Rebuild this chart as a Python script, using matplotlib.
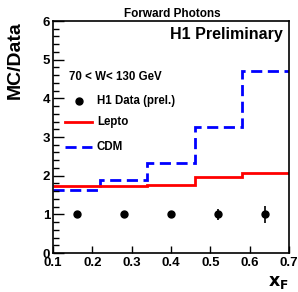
import matplotlib
matplotlib.use("Agg")
import matplotlib.pyplot as plt
import numpy as np
from matplotlib.ticker import MultipleLocator

plt.rcParams['font.family'] = ['Liberation Sans', 'DejaVu Sans']
plt.rcParams['font.weight'] = 'bold'

bin_edges = [0.1, 0.22, 0.34, 0.46, 0.58, 0.7]
data_x = [0.16, 0.28, 0.40, 0.52, 0.64]
data_y = [1.0, 1.0, 1.0, 1.0, 1.0]
data_err = [0.04, 0.05, 0.09, 0.14, 0.22]
lepto = [1.73, 1.74, 1.77, 1.97, 2.06]
cdm = [1.63, 1.89, 2.33, 3.27, 4.70]

W, H = 298, 292
fig = plt.figure(figsize=(W / 100, H / 100), dpi=100)
ax = fig.add_axes([53 / W, 1 - 253 / H, (289 - 53) / W, (253 - 21) / H])

ax.stairs(cdm, bin_edges, color='#0000ff', lw=2.0, ls=(0, (4, 2)), baseline=None)
ax.stairs(lepto, bin_edges, color='#ff0000', lw=2.0, baseline=None)
ax.errorbar(data_x, data_y, yerr=data_err, fmt='o', color='black', ms=5,
            elinewidth=1.2, capsize=0)

ax.set_xlim(0.1, 0.7)
ax.set_ylim(0, 6)
ax.xaxis.set_major_locator(MultipleLocator(0.1))
ax.yaxis.set_major_locator(MultipleLocator(1))
ax.yaxis.set_minor_locator(MultipleLocator(0.2))
ax.tick_params(axis='both', which='both', direction='in', top=False, right=False)
ax.tick_params(axis='y', which='major', length=8, width=1, labelsize=9.5, pad=2)
ax.tick_params(axis='y', which='minor', length=4, width=1)
ax.tick_params(axis='x', which='major', length=5, width=1, labelsize=9.5, pad=3)
for lab in ax.get_xticklabels() + ax.get_yticklabels():
    lab.set_fontweight('bold')
for s in ax.spines.values():
    s.set_linewidth(1.2)

def fx(px):
    return px / W

def fy(py):
    return 1 - py / H

fig.text(fx(172), fy(14), 'Forward Photons', ha='center', va='center', fontsize=8.5, fontweight='bold')
fig.text(fx(283), fy(34), 'H1 Preliminary', ha='right', va='center', fontsize=11.5, fontweight='bold')
fig.text(fx(69), fy(77), '70 < W< 130 GeV', ha='left', va='center', fontsize=8.3, fontweight='bold')
fig.text(fx(15), fy(21), 'MC/Data', ha='center', va='top', rotation=90, fontsize=14, fontweight='bold')
fig.text(fx(289), fy(291), r'$\mathbf{x_F}$', ha='right', va='bottom', fontsize=12.5)

# legend
fig.lines.append(plt.Line2D([fx(79)], [fy(101)], marker='o', ms=5, color='black', transform=fig.transFigure))
fig.lines.append(plt.Line2D([fx(65), fx(92)], [fy(122), fy(122)], color='#ff0000', lw=2, transform=fig.transFigure))
fig.lines.append(plt.Line2D([fx(65), fx(92)], [fy(147), fy(147)], color='#0000ff', lw=2, ls=(0, (4, 2)), transform=fig.transFigure))
fig.text(fx(97), fy(101), 'H1 Data (prel.)', ha='left', va='center', fontsize=8.3, fontweight='bold')
fig.text(fx(97), fy(122), 'Lepto', ha='left', va='center', fontsize=8.3, fontweight='bold')
fig.text(fx(97), fy(147), 'CDM', ha='left', va='center', fontsize=8.3, fontweight='bold')

fig.savefig('out.png', dpi=100)
